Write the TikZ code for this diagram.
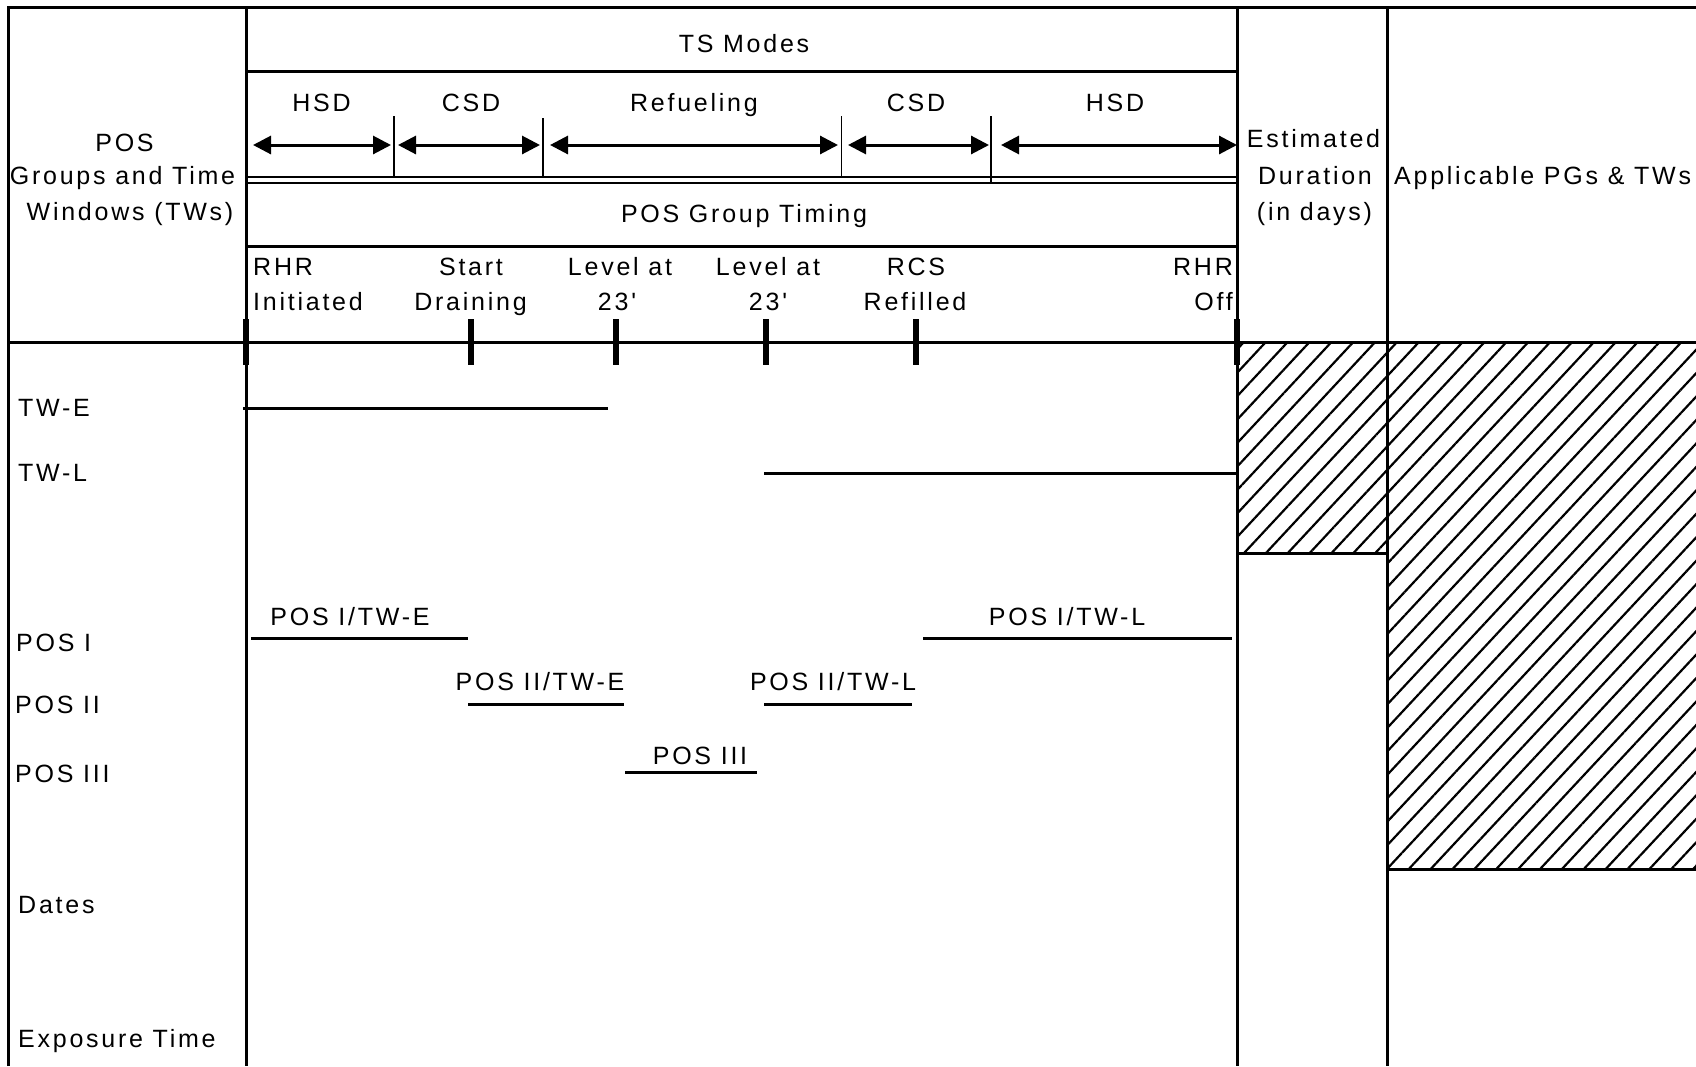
\documentclass[tikz,border=0pt]{standalone}
\usepackage{fontspec}
\newfontfamily\chartfont{Liberation Sans}[LetterSpace=11]
\usetikzlibrary{arrows.meta, patterns.meta}

\begin{document}
\begin{tikzpicture}[x=1pt, y=-1pt,
		frame/.style={line width=3pt},
		thinrule/.style={line width=1.5pt},
		bar/.style={line width=3pt},
		tick/.style={line width=6pt},
		span/.style={line width=3pt, {Triangle[length=18pt,width=18pt]}-{Triangle[length=18pt,width=18pt]}},
		hatch/.style={pattern={Lines[angle=47,distance=16pt,line width=2.2pt]}},
		every node/.style={font=\chartfont\fontsize{25}{36}\selectfont, inner sep=0pt, anchor=base},
		lbl/.style={anchor=base west}]
		
		\useasboundingbox (0,0) rectangle (1696,1066);
		
		% hatched cells
		\fill[hatch] (1237,342) rectangle (1387.5,553);
		\fill[hatch] (1387.5,342) rectangle (1696,869);
		
		% table frame
		\draw[frame] (8,1066) -- (8,7) -- (1696,7);
		\draw[frame] (246,7) -- (246,1066);
		\draw[frame] (1237,7) -- (1237,1066);
		\draw[frame] (1387.5,7) -- (1387.5,1066);
		\draw[frame] (246,71) -- (1237,71);
		\draw[line width=2pt] (246,177) -- (1237,177);
		\draw[line width=2pt] (246,182.5) -- (1237,182.5);
		\draw[frame] (246,246) -- (1237,246);
		\draw[frame] (8,342) -- (1696,342);
		\draw[frame] (1237,553) -- (1387.5,553);
		\draw[frame] (1387.5,869) -- (1696,869);
		
		% column heads
		\node (posA) at (124.5,151) {POS};
		\node (posB) at (122.5,184) {Groups and Time};
		\node (posC) at (130,220) {Windows (TWs)};
		\node (estA) at (1313.5,147) {Estimated};
		\node (estB) at (1315,184) {Duration};
		\node (estC) at (1314.5,220) {(in days)};
		\node[lbl] (appl) at (1394,184) {Applicable PGs \& TWs};
		
		% TS modes
		\node (tsm) at (744,52.5) {TS Modes};
		\node (hsdA) at (321.5,111.5) {HSD};
		\node (csdA) at (471,111.5) {CSD};
		\node (refl) at (694,111.5) {Refueling};
		\node (csdB) at (916,111.5) {CSD};
		\node (hsdB) at (1115,111.5) {HSD};
		\draw[thinrule] (394,116) -- (394,177);
		\draw[thinrule] (543,118) -- (543,177);
		\draw[thinrule] (841.5,116) -- (841.5,177);
		\draw[thinrule] (991,116) -- (991,182.5);
		\draw[span] (253,145) -- (391,145);
		\draw[span] (398,145) -- (540,145);
		\draw[span] (550,145) -- (838,145);
		\draw[span] (848,145) -- (989,145);
		\draw[span] (1001,145) -- (1237,145);
		
		% POS group timing
		\node (pgt) at (744,222.5) {POS Group Timing};
		\node[lbl] (rhrA) at (253,275) {RHR};
		\node[lbl] (rhrB) at (253,310.5) {Initiated};
		\node (drnA) at (471,275) {Start};
		\node (drnB) at (470.5,310.5) {Draining};
		\node (lvlA) at (620,275) {Level at};
		\node (lvlB) at (617,310.5) {23'};
		\node (lvlC) at (768,275) {Level at};
		\node (lvlD) at (768,310.5) {23'};
		\node (rcsA) at (916,275) {RCS};
		\node (rcsB) at (915,310.5) {Refilled};
		\node[anchor=base east] (offA) at (1233,275) {RHR};
		\node[anchor=base east] (offB) at (1233,310.5) {Off};
		\foreach \x in {246,471,615.5,766,916,1237}
			\draw[tick] (\x,319) -- (\x,365);
		
		% rows
		\node[lbl] (twe) at (18,416) {TW-E};
		\node[lbl] (twl) at (18,481) {TW-L};
		\node[lbl] (pos1) at (16,651) {POS I};
		\node[lbl] (pos2) at (15,713) {POS II};
		\node[lbl] (pos3) at (15,782) {POS III};
		\node[lbl] (dates) at (18,913) {Dates};
		\node[lbl] (expo) at (18,1047) {Exposure Time};
		
		\draw[bar] (243,408) -- (608,408);
		\draw[bar] (764,473) -- (1237,473);
		
		\node (p1e) at (350,625) {POS I/TW-E};
		\draw[bar] (251,638) -- (468,638);
		\node (p2e) at (540,690) {POS II/TW-E};
		\draw[bar] (468,704) -- (624,704);
		\node (p2l) at (833,690) {POS II/TW-L};
		\draw[bar] (764,704) -- (912,704);
		\node (p3) at (700,764) {POS III};
		\draw[bar] (625,772) -- (757,772);
		\node (p1l) at (1067,625) {POS I/TW-L};
		\draw[bar] (923,638) -- (1232,638);
	\end{tikzpicture}
\end{document}
